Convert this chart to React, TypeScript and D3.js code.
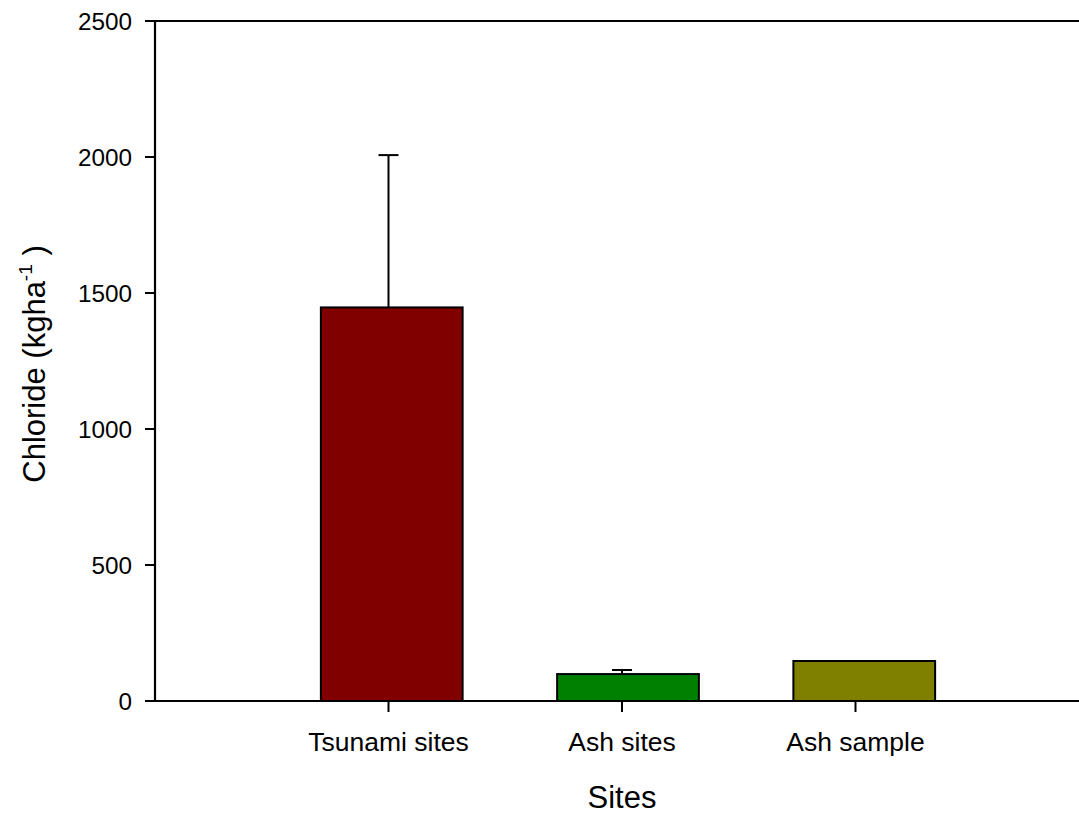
import React from "react";
import * as d3 from "d3";

const categories = ["Tsunami sites", "Ash sites", "Ash sample"];
const means = [1447, 99, 147];
const errors = [560, 15, 0];
const colors = ["#800000", "#008000", "#808000"];
const yTicks = [0, 500, 1000, 1500, 2000, 2500];

const W = 1079;
const H = 814;
const left = 155;
const top = 21;
const bottom = 701;
const right = 1089;

export default function App() {
  const y = d3.scaleLinear().domain([0, 2500]).range([bottom, top]);
  // category positions (ticks / error bars)
  const xPos = d3.scaleLinear().domain([0, 4]).range([left, right]);
  // bar bands (slightly offset as in the original)
  const xBand = d3
    .scaleBand<string>()
    .domain(categories)
    .range([250, 1006])
    .paddingInner(0.4)
    .paddingOuter(0.3);
  const font = "Arial, 'Liberation Sans', sans-serif";
  return (
    <svg width={W} height={H} style={{ position: "absolute", left: 0, top: 0, fontFamily: font }}>
      <rect x={0} y={0} width={W} height={H} fill="#fff" />
      {categories.map((c, i) => {
        const bx = xBand(c)!;
        const bw = xBand.bandwidth();
        const cx = xPos(i + 1);
        return (
          <g key={c}>
            <rect
              x={bx}
              y={y(means[i])}
              width={bw}
              height={y(0) - y(means[i])}
              fill={colors[i]}
              stroke="#000"
              strokeWidth={2}
            />
            {errors[i] > 0 && (
              <g stroke="#000" strokeWidth={2}>
                <line x1={cx} x2={cx} y1={y(means[i])} y2={y(means[i] + errors[i])} />
                <line x1={cx - 10} x2={cx + 10} y1={y(means[i] + errors[i])} y2={y(means[i] + errors[i])} />
              </g>
            )}
            <line x1={cx} x2={cx} y1={bottom} y2={bottom + 11} stroke="#000" strokeWidth={2} />
            <text x={cx} y={751} textAnchor="middle" fontSize={26.5} fill="#000">
              {c}
            </text>
          </g>
        );
      })}
      {/* axes */}
      <line x1={left} x2={W} y1={bottom} y2={bottom} stroke="#000" strokeWidth={2.2} />
      <line x1={left} x2={W} y1={top} y2={top} stroke="#000" strokeWidth={2.2} />
      <line x1={left} x2={left} y1={top} y2={bottom} stroke="#000" strokeWidth={2.2} />
      {yTicks.map((t) => (
        <g key={t}>
          <line x1={left - 10} x2={left} y1={y(t)} y2={y(t)} stroke="#000" strokeWidth={2} />
          <text x={132} y={y(t) + 8.5} textAnchor="end" fontSize={24.3} fill="#000">
            {t}
          </text>
        </g>
      ))}
      <text x={622} y={808} textAnchor="middle" fontSize={31} fill="#000">
        Sites
      </text>
      <text
        transform={`translate(45,${364}) rotate(-90)`}
        textAnchor="middle"
        fontSize={31}
        fill="#000"
      >
        Chloride (kgha
        <tspan fontSize={19} dy={-13}>-1</tspan>
        <tspan dy={13}> )</tspan>
      </text>
    </svg>
  );
}
